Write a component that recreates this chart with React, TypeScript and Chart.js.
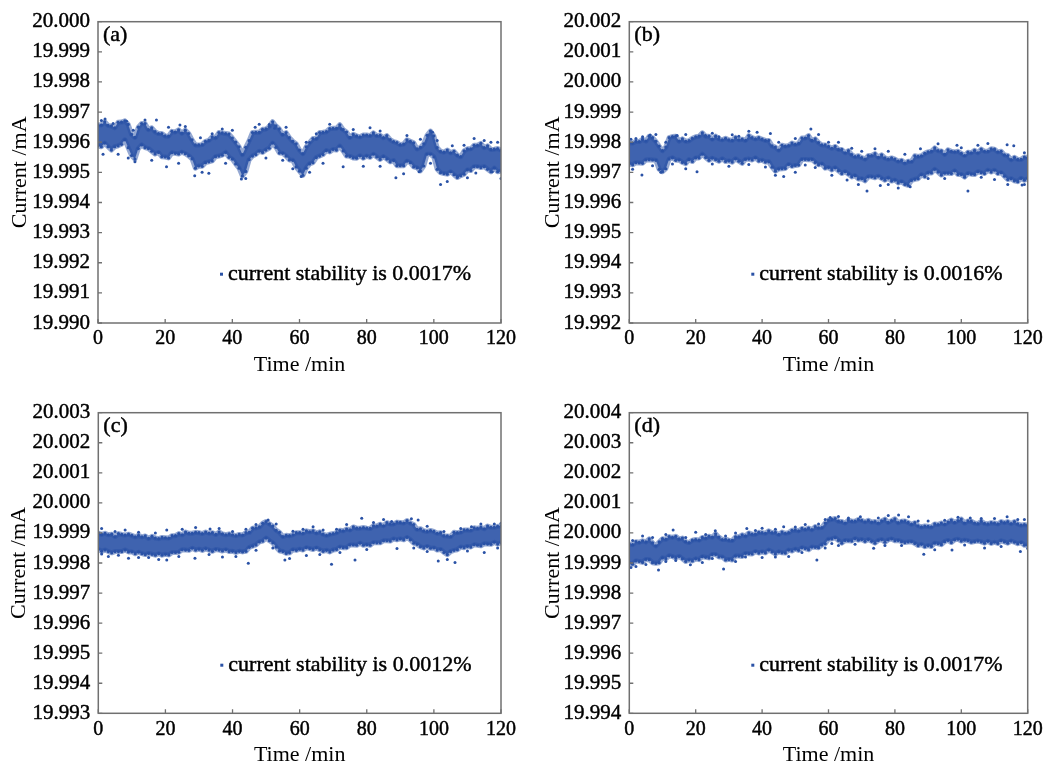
import React, { useEffect, useRef } from "react";
import { Chart, registerables } from "chart.js";

Chart.register(...registerables);

const FONT = "'Liberation Serif', 'Times New Roman', Times, serif";
const BLUE = "#2a52a6";
const BAND = "rgba(42, 82, 166, 0.9)";
const HALO = "rgba(42, 82, 166, 0.5)";
const INK = "#000000";
const FRAME = "#707070";

// time axis (minutes)
const minutes = [
  0, 1, 2, 3, 4, 5, 6, 7, 8, 9, 10, 11, 12, 13, 14, 15, 16, 17, 18, 19, 20,
  21, 22, 23, 24, 25, 26, 27, 28, 29, 30, 31, 32, 33, 34, 35, 36, 37, 38, 39, 40,
  41, 42, 43, 44, 45, 46, 47, 48, 49, 50, 51, 52, 53, 54, 55, 56, 57, 58, 59, 60,
  61, 62, 63, 64, 65, 66, 67, 68, 69, 70, 71, 72, 73, 74, 75, 76, 77, 78, 79, 80,
  81, 82, 83, 84, 85, 86, 87, 88, 89, 90, 91, 92, 93, 94, 95, 96, 97, 98, 99, 100,
  101, 102, 103, 104, 105, 106, 107, 108, 109, 110, 111, 112, 113, 114, 115, 116, 117, 118, 119, 120,
];
const xTicks = [0, 20, 40, 60, 80, 100, 120];

const yTicksA = [19.99, 19.991, 19.992, 19.993, 19.994, 19.995, 19.996, 19.997, 19.998, 19.999, 20.0];
const yTicksB = [19.992, 19.993, 19.994, 19.995, 19.996, 19.997, 19.998, 19.999, 20.0, 20.001, 20.002];
const yTicksC = [19.993, 19.994, 19.995, 19.996, 19.997, 19.998, 19.999, 20.0, 20.001, 20.002, 20.003];
const yTicksD = [19.994, 19.995, 19.996, 19.997, 19.998, 19.999, 20.0, 20.001, 20.002, 20.003, 20.004];

const panelTags = ["(a)", "(b)", "(c)", "(d)"];
const stabilityTexts = [
  "current stability is 0.0017%",
  "current stability is 0.0016%",
  "current stability is 0.0012%",
  "current stability is 0.0017%",
];

// ---------- panel (a): upper / lower edge of the dense band, per minute (mA)
const aHi = [
  19.99658, 19.99657, 19.99668, 19.99656, 19.99654, 19.99648, 19.99666, 19.99667, 19.99671, 19.99659,
  19.99626, 19.99616, 19.9965, 19.99662, 19.99662, 19.99642, 19.99648, 19.99635, 19.99629, 19.99629,
  19.99621, 19.9962, 19.99636, 19.99634, 19.99641, 19.9963, 19.9964, 19.99629, 19.99608, 19.99591,
  19.99591, 19.99592, 19.99603, 19.99606, 19.99618, 19.99615, 19.99632, 19.99631, 19.99629, 19.99627,
  19.99614, 19.996, 19.99585, 19.99559, 19.99583, 19.99605, 19.99632, 19.99633, 19.99633, 19.99643,
  19.99644, 19.99652, 19.99668, 19.99654, 19.99644, 19.99626, 19.99632, 19.99615, 19.99603, 19.99595,
  19.99574, 19.99562, 19.99585, 19.99599, 19.99612, 19.99612, 19.99632, 19.99633, 19.99635, 19.99645,
  19.99646, 19.99646, 19.99658, 19.99642, 19.99634, 19.99616, 19.99626, 19.99621, 19.99618, 19.99624,
  19.99624, 19.99622, 19.99631, 19.99622, 19.99623, 19.99615, 19.99622, 19.99609, 19.99602, 19.99599,
  19.99592, 19.99594, 19.99608, 19.99603, 19.99598, 19.99578, 19.99583, 19.99595, 19.99623, 19.99637,
  19.99621, 19.99582, 19.9957, 19.99567, 19.99574, 19.99565, 19.9957, 19.99557, 19.99552, 19.99571,
  19.99578, 19.99578, 19.9959, 19.9959, 19.99596, 19.99582, 19.99588, 19.99576, 19.99577, 19.99579,
  19.99574,
];
const aLo = [
  19.99588, 19.99585, 19.99597, 19.99585, 19.99574, 19.99585, 19.99588, 19.99593, 19.99608, 19.99582,
  19.99556, 19.99544, 19.99579, 19.99591, 19.99582, 19.99579, 19.9957, 19.99561, 19.99566, 19.99552,
  19.99551, 19.99548, 19.99565, 19.99563, 19.99561, 19.99567, 19.99562, 19.99555, 19.99545, 19.99514,
  19.99521, 19.9952, 19.99532, 19.99535, 19.99538, 19.99552, 19.99554, 19.99557, 19.99566, 19.9955,
  19.99544, 19.99528, 19.99514, 19.99488, 19.99503, 19.99542, 19.99554, 19.99559, 19.9957, 19.99566,
  19.99574, 19.9958, 19.99597, 19.99583, 19.99564, 19.99563, 19.99554, 19.99541, 19.9954, 19.99518,
  19.99504, 19.9949, 19.99514, 19.99528, 19.99532, 19.99549, 19.99554, 19.99559, 19.99572, 19.99568,
  19.99576, 19.99574, 19.99587, 19.99571, 19.99554, 19.99553, 19.99548, 19.99547, 19.99555, 19.99547,
  19.99554, 19.9955, 19.9956, 19.99551, 19.99543, 19.99552, 19.99544, 19.99535, 19.99539, 19.99522,
  19.99522, 19.99522, 19.99537, 19.99532, 19.99518, 19.99515, 19.99505, 19.99521, 19.9956, 19.9956,
  19.99551, 19.9951, 19.99499, 19.99496, 19.99494, 19.99502, 19.99492, 19.99483, 19.99489, 19.99494,
  19.99508, 19.99506, 19.99519, 19.99519, 19.99516, 19.99519, 19.9951, 19.99502, 19.99514, 19.99502,
  19.99504,
];
// scattered points above / below the band (minute, mA)
const aTopX = [2.1, 4.5, 8.5, 14, 17.4, 24.4, 30.5, 37, 46.8, 51, 52.6, 65, 72.4, 84, 99.6, 105.5, 112, 115, 119,
  1, 10.5, 21, 26, 34, 40, 48, 56, 62, 69, 76, 81, 92, 96, 101, 109, 117];
const aTopY = [19.99677, 19.99662, 19.9967, 19.99674, 19.99674, 19.99657, 19.99615, 19.99644, 19.9965, 19.99659,
  19.99646, 19.99628, 19.99644, 19.99637, 19.99633, 19.99588, 19.99612, 19.99606, 19.996,
  19.99672, 19.9964, 19.9965, 19.99652, 19.99628, 19.9964, 19.9966, 19.9965, 19.996, 19.9966, 19.99642,
  19.99648, 19.99622, 19.9961, 19.99606, 19.9959, 19.996];
const aBotX = [6, 11, 20.4, 28.8, 33, 42.7, 55, 60.5, 73, 79, 88.7, 95.6, 102, 107, 112.5, 117.4,
  1.5, 9, 16, 24, 31, 38, 44, 50, 58, 63, 67, 84, 91, 99, 104, 110, 120];
const aBotY = [19.9956, 19.99535, 19.99519, 19.99489, 19.99497, 19.99478, 19.9954, 19.99486, 19.99519, 19.9952,
  19.99482, 19.99502, 19.9946, 19.99486, 19.99498, 19.99502,
  19.9956, 19.99548, 19.9954, 19.9953, 19.995, 19.9953, 19.9948, 19.99548, 19.99512, 19.995, 19.9953,
  19.9952, 19.99495, 19.9953, 19.9947, 19.99482, 19.9948];

// ---------- panel (b)
const bHi = [
  19.99798, 19.99797, 19.99803, 19.99802, 19.9981, 19.99804, 19.9982, 19.99815, 19.99803, 19.99787,
  19.99772, 19.99784, 19.99815, 19.99819, 19.9982, 19.99804, 19.99811, 19.99803, 19.99805, 19.99813,
  19.99818, 19.9982, 19.99831, 19.9982, 19.9982, 19.9981, 19.9982, 19.99811, 19.99808, 19.99813,
  19.99808, 19.99806, 19.99816, 19.99808, 19.9981, 19.99806, 19.99822, 19.99815, 19.99811, 19.99815,
  19.9981, 19.99806, 19.99806, 19.99788, 19.99784, 19.99774, 19.9979, 19.99787, 19.99789, 19.99797,
  19.99793, 19.99796, 19.99814, 19.99814, 19.99822, 19.99806, 19.99811, 19.99799, 19.99791, 19.99791,
  19.99786, 19.9978, 19.99786, 19.99776, 19.99776, 19.99765, 19.99772, 19.99759, 19.99752, 19.99755,
  19.99749, 19.99744, 19.99756, 19.99756, 19.99762, 19.9975, 19.99758, 19.99748, 19.99744, 19.99748,
  19.99744, 19.99737, 19.9974, 19.99731, 19.99737, 19.99736, 19.99755, 19.99753, 19.99755, 19.99763,
  19.99768, 19.9977, 19.99781, 19.99772, 19.99771, 19.9976, 19.99775, 19.9977, 19.99768, 19.9977,
  19.99763, 19.99756, 19.99767, 19.99765, 19.99773, 19.99765, 19.99777, 19.9977, 19.9977, 19.99778,
  19.99777, 19.99768, 19.9977, 19.99758, 19.99756, 19.99742, 19.9975, 19.99743, 19.99743, 19.99751,
  19.99749,
];
const bLo = [
  19.99728, 19.99725, 19.99732, 19.99731, 19.9973, 19.99741, 19.99742, 19.99741, 19.9974, 19.9971,
  19.99702, 19.99712, 19.99744, 19.99748, 19.9974, 19.99741, 19.99733, 19.99729, 19.99742, 19.99736,
  19.99748, 19.99748, 19.9976, 19.99749, 19.9974, 19.99747, 19.99742, 19.99737, 19.99745, 19.99736,
  19.99738, 19.99734, 19.99745, 19.99737, 19.9973, 19.99743, 19.99744, 19.99741, 19.99748, 19.99738,
  19.9974, 19.99734, 19.99735, 19.99717, 19.99704, 19.99711, 19.99712, 19.99713, 19.99726, 19.9972,
  19.99723, 19.99724, 19.99743, 19.99743, 19.99742, 19.99743, 19.99733, 19.99725, 19.99728, 19.99714,
  19.99716, 19.99708, 19.99715, 19.99705, 19.99696, 19.99702, 19.99694, 19.99685, 19.99689, 19.99678,
  19.99679, 19.99672, 19.99685, 19.99685, 19.99682, 19.99687, 19.9968, 19.99674, 19.99681, 19.99671,
  19.99674, 19.99665, 19.99669, 19.9966, 19.99657, 19.99673, 19.99677, 19.99679, 19.99692, 19.99686,
  19.99698, 19.99698, 19.9971, 19.99701, 19.99691, 19.99697, 19.99697, 19.99696, 19.99705, 19.99693,
  19.99693, 19.99684, 19.99696, 19.99694, 19.99693, 19.99702, 19.99699, 19.99696, 19.99707, 19.99701,
  19.99707, 19.99696, 19.99699, 19.99687, 19.99676, 19.99679, 19.99672, 19.99669, 19.9968, 19.99674,
  19.99679,
];
const bTopX = [2, 6.3, 14.4, 22.9, 27, 33, 38.5, 42.5, 54.7, 60, 67, 74, 87.7, 98.7, 105, 113.8, 115.8,
  0.5, 4, 8, 11, 17, 25, 31, 36, 45, 50, 57, 63, 70, 78, 83, 93, 100, 108, 119];
const bTopY = [19.99812, 19.99824, 19.99822, 19.99822, 19.99818, 19.9982, 19.99833, 19.99829, 19.99844, 19.998,
  19.9978, 19.99778, 19.99778, 19.9979, 19.9979, 19.99792, 19.99788,
  19.9981, 19.99818, 19.99826, 19.998, 19.99826, 19.9983, 19.99825, 19.99836, 19.998, 19.99812, 19.99826,
  19.998, 19.9977, 19.9977, 19.9976, 19.99795, 19.99782, 19.99796, 19.99765];
const bBotX = [3.8, 9.5, 20.4, 30, 46.5, 56, 65.6, 71.6, 75.6, 84.6, 90, 102, 110, 118.3,
  1, 7, 13, 17, 25, 36, 41, 44, 50, 53, 61, 69, 78, 81, 95, 106, 114, 119];
const bBotY = [19.99691, 19.997, 19.99702, 19.9972, 19.99686, 19.99716, 19.99675, 19.99638, 19.99656, 19.99652,
  19.9968, 19.99638, 19.99676, 19.99658,
  19.9971, 19.99722, 19.99728, 19.99712, 19.99728, 19.99726, 19.99718, 19.9969, 19.997, 19.99724, 19.9969,
  19.9966, 19.9966, 19.99648, 19.9968, 19.99684, 19.9966, 19.9966];

// ---------- panel (c)
const cHi = [
  19.999, 19.99895, 19.99899, 19.99894, 19.99896, 19.99888, 19.99898, 19.99895, 19.99893, 19.99896,
  19.99892, 19.99887, 19.99892, 19.99887, 19.9989, 19.99882, 19.99889, 19.99883, 19.99881, 19.99885,
  19.99884, 19.99883, 19.99891, 19.99891, 19.99898, 19.99894, 19.99903, 19.99899, 19.99899, 19.99902,
  19.99901, 19.99898, 19.99903, 19.99899, 19.99901, 19.99895, 19.99903, 19.99897, 19.99894, 19.99897,
  19.99894, 19.99891, 19.99895, 19.99893, 19.99901, 19.99902, 19.99916, 19.99917, 19.9992, 19.99932,
  19.99938, 19.9993, 19.99923, 19.99909, 19.99902, 19.99888, 19.99892, 19.99891, 19.99894, 19.99901,
  19.99901, 19.99899, 19.99907, 19.99904, 19.99907, 19.999, 19.99904, 19.99896, 19.99892, 19.99896,
  19.99898, 19.99901, 19.99909, 19.99907, 19.99913, 19.9991, 19.9992, 19.99916, 19.99916, 19.99918,
  19.99916, 19.99915, 19.99924, 19.99923, 19.99929, 19.99924, 19.99934, 19.9993, 19.9993, 19.99936,
  19.99935, 19.99933, 19.99941, 19.99933, 19.99928, 19.99912, 19.99914, 19.99907, 19.99905, 19.99908,
  19.99905, 19.99899, 19.99901, 19.99891, 19.9989, 19.99888, 19.99902, 19.99901, 19.99903, 19.9991,
  19.9991, 19.99909, 19.99917, 19.99915, 19.99919, 19.99914, 19.99923, 19.99919, 19.99919, 19.99922,
  19.99922,
];
const cLo = [
  19.99845, 19.99839, 19.99843, 19.99838, 19.99834, 19.99838, 19.99838, 19.99838, 19.99843, 19.99837,
  19.99837, 19.99831, 19.99836, 19.99831, 19.99828, 19.99832, 19.99829, 19.99826, 19.99831, 19.99826,
  19.99829, 19.99827, 19.99835, 19.99835, 19.99836, 19.99844, 19.99843, 19.99842, 19.99849, 19.99843,
  19.99846, 19.99842, 19.99847, 19.99843, 19.99839, 19.99845, 19.99843, 19.9984, 19.99844, 19.99838,
  19.99839, 19.99835, 19.99839, 19.99837, 19.99839, 19.99852, 19.99856, 19.9986, 19.9987, 19.99873,
  19.99883, 19.99874, 19.99867, 19.99853, 19.9984, 19.99838, 19.99832, 19.99834, 19.99844, 19.99842,
  19.99846, 19.99843, 19.99851, 19.99848, 19.99845, 19.9985, 19.99844, 19.99839, 19.99842, 19.99837,
  19.99843, 19.99845, 19.99853, 19.99851, 19.99851, 19.9986, 19.9986, 19.99859, 19.99866, 19.99859,
  19.99861, 19.99859, 19.99868, 19.99867, 19.99867, 19.99874, 19.99874, 19.99873, 19.9988, 19.99877,
  19.9988, 19.99877, 19.99885, 19.99877, 19.99866, 19.99862, 19.99854, 19.9985, 19.99855, 19.99849,
  19.9985, 19.99843, 19.99845, 19.99835, 19.99828, 19.99838, 19.99842, 19.99844, 19.99853, 19.99851,
  19.99855, 19.99853, 19.99861, 19.99859, 19.99857, 19.99864, 19.99863, 19.99862, 19.99869, 19.99863,
  19.99867,
];
const cTopX = [5, 12, 20.4, 33.3, 40, 50.6, 58, 64, 71, 78.5, 87.4, 93.3, 95.3, 103, 111.2, 118,
  1, 8, 17, 25, 29, 36, 44, 47, 53, 61, 67, 74, 82, 85, 98, 108, 114, 120];
const cTopY = [19.99905, 19.99902, 19.9991, 19.99913, 19.99905, 19.99943, 19.99906, 19.99921, 19.99912, 19.99949,
  19.99938, 19.99947, 19.99943, 19.99905, 19.99921, 19.9993,
  19.99915, 19.9991, 19.999, 19.99912, 19.99918, 19.99915, 19.99912, 19.99928, 19.9993, 19.99912, 19.9991,
  19.99928, 19.99935, 19.99945, 19.99922, 19.99915, 19.9993, 19.99932];
const cBotX = [3, 9, 15, 20.4, 28.8, 37, 44.7, 55.6, 62, 69.5, 76.5, 89, 101.3, 106.3, 115,
  1, 6, 12, 18, 24, 33, 41, 47, 52, 57, 66, 72, 80, 94, 98, 104, 110, 119];
const cBotY = [19.99822, 19.99816, 19.99818, 19.9981, 19.99816, 19.9982, 19.99799, 19.9981, 19.99825, 19.99796,
  19.9981, 19.99848, 19.99807, 19.99802, 19.99835,
  19.9983, 19.99826, 19.99818, 19.99812, 19.99822, 19.99828, 19.99822, 19.99842, 19.9985, 19.99815, 19.99828,
  19.99835, 19.99845, 19.9985, 19.99838, 19.99812, 19.9984, 19.9985];

// ---------- panel (d)
const dHi = [
  19.99963, 19.99961, 19.99971, 19.99969, 19.99974, 19.9997, 19.9998, 19.99967, 19.99957, 19.9997,
  19.99981, 19.99979, 19.99988, 19.99985, 19.99989, 19.9998, 19.99983, 19.99971, 19.99968, 19.99976,
  19.99978, 19.99976, 19.99985, 19.99983, 19.99989, 19.99986, 19.99997, 19.99986, 19.99978, 19.99979,
  19.99976, 19.99975, 19.99987, 19.99987, 19.99994, 19.9999, 20.0, 19.99996, 19.99996, 20.00002,
  20.00001, 19.99999, 20.00007, 20.00001, 20.00002, 19.99995, 20.00003, 19.99999, 20.00001, 20.00009,
  20.0001, 20.00007, 20.00015, 20.00012, 20.00016, 20.00011, 20.00021, 20.00017, 20.00018, 20.00033,
  20.00043, 20.00045, 20.00048, 20.00039, 20.00038, 20.00033, 20.00043, 20.00039, 20.00039, 20.00045,
  20.00042, 20.00037, 20.00042, 20.00036, 20.00038, 20.00033, 20.0004, 20.00046, 20.00035, 20.00041,
  20.00047, 20.00034, 20.00039, 20.0004, 20.00035, 20.00029, 20.00034, 20.00024, 20.0002, 20.00023,
  20.00022, 20.0002, 20.0003, 20.00028, 20.00033, 20.00029, 20.00036, 20.00043, 20.00035, 20.00041,
  20.00046, 20.00033, 20.0004, 20.00039, 20.00033, 20.00031, 20.00039, 20.00032, 20.0003, 20.00034,
  20.00033, 20.0003, 20.00038, 20.00034, 20.00038, 20.00031, 20.00038, 20.0003, 20.00026, 20.00028,
  20.00026,
];
const dLo = [
  19.99899, 19.99896, 19.99907, 19.99905, 19.99902, 19.99912, 19.99911, 19.99901, 19.99899, 19.99901,
  19.99917, 19.99914, 19.99924, 19.99921, 19.99917, 19.99922, 19.99914, 19.99905, 19.9991, 19.99907,
  19.99914, 19.99911, 19.99921, 19.99919, 19.99917, 19.99928, 19.99928, 19.9992, 19.9992, 19.9991,
  19.99912, 19.9991, 19.99923, 19.99923, 19.99922, 19.99932, 19.99931, 19.9993, 19.99938, 19.99933,
  19.99937, 19.99934, 19.99943, 19.99937, 19.9993, 19.99937, 19.99934, 19.99933, 19.99943, 19.9994,
  19.99946, 19.99942, 19.99951, 19.99948, 19.99944, 19.99953, 19.99952, 19.99951, 19.9996, 19.99964,
  19.99979, 19.9998, 19.99984, 19.99975, 19.99966, 19.99975, 19.99974, 19.99973, 19.99981, 19.99976,
  19.99978, 19.99972, 19.99978, 19.99972, 19.99966, 19.99975, 19.99978, 19.99969, 19.99977, 19.9998,
  19.99974, 19.99975, 19.99971, 19.99968, 19.9997, 19.99971, 19.99965, 19.99958, 19.99962, 19.99954,
  19.99958, 19.99955, 19.99966, 19.99964, 19.99961, 19.99971, 19.99975, 19.99968, 19.99977, 19.99979,
  19.99973, 19.99976, 19.99974, 19.99969, 19.99971, 19.99973, 19.9997, 19.99966, 19.99972, 19.99965,
  19.99969, 19.99965, 19.99974, 19.9997, 19.99966, 19.99973, 19.99969, 19.99964, 19.99968, 19.99959,
  19.99959,
];
const dTopX = [4, 13.2, 20, 25.9, 35.4, 40, 46.5, 53, 60.5, 69.6, 81.1, 84.1, 90, 102.7, 113.8, 119,
  1, 7, 11, 17, 23, 29, 32, 38, 44, 50, 57, 59, 63, 66, 75, 78, 87, 95, 99, 106, 110, 117];
const dTopY = [19.9999, 20.0001, 20.00002, 20.00007, 20.00015, 20.00016, 20.00021, 20.00028, 20.00051, 20.00054,
  20.0006, 20.00054, 20.0004, 20.0005, 20.00054, 20.00045,
  19.99975, 19.99985, 19.99995, 19.99985, 19.99995, 19.9999, 20.0, 20.00008, 20.00012, 20.0002, 20.0003,
  20.00045, 20.00055, 20.0005, 20.0005, 20.00058, 20.0004, 20.00042, 20.00052, 20.00048, 20.00048, 20.00045];
const dBotX = [2, 8.8, 18.4, 28.4, 40, 48, 56.5, 63, 73.6, 88.7, 97.2, 107, 117.8,
  0.5, 5, 11, 14, 22, 25, 32, 35, 44, 52, 59, 61, 68, 77, 82, 92, 101, 112, 120];
const dBotY = [19.99888, 19.99877, 19.99894, 19.9988, 19.99918, 19.99922, 19.9991, 19.99958, 19.99949, 19.99929,
  19.99943, 19.9995, 19.99938,
  19.99885, 19.99895, 19.99905, 19.99908, 19.99902, 19.99915, 19.99905, 19.9992, 19.9992, 19.99935, 19.9995,
  19.99965, 19.99962, 19.99958, 19.99958, 19.99944, 19.9996, 19.99955, 19.99948];

type Spec = {
  left: number; top: number; width: number; height: number;
  plotL: number; plotT: number; plotR: number; plotB: number;
  yTitlePad: number;
  hi: number[]; lo: number[];
  topX: number[]; topY: number[]; botX: number[]; botY: number[];
  yTicks: number[]; tag: string; legend: string;
};

const specs: Spec[] = [
  { left: 0, top: 0, width: 520, height: 380, plotL: 98, plotT: 21.7, plotR: 502, plotB: 323, yTitlePad: 6.8,
    hi: aHi, lo: aLo, topX: aTopX, topY: aTopY, botX: aBotX, botY: aBotY,
    yTicks: yTicksA, tag: panelTags[0], legend: stabilityTexts[0] },
  { left: 520, top: 0, width: 529, height: 380, plotL: 109.3, plotT: 21.7, plotR: 507.7, plotB: 323, yTitlePad: 20.3,
    hi: bHi, lo: bLo, topX: bTopX, topY: bTopY, botX: bBotX, botY: bBotY,
    yTicks: yTicksB, tag: panelTags[1], legend: stabilityTexts[1] },
  { left: 0, top: 390, width: 520, height: 380, plotL: 98.3, plotT: 22.7, plotR: 501, plotB: 323.3, yTitlePad: 5.8,
    hi: cHi, lo: cLo, topX: cTopX, topY: cTopY, botX: cBotX, botY: cBotY,
    yTicks: yTicksC, tag: panelTags[2], legend: stabilityTexts[2] },
  { left: 520, top: 390, width: 529, height: 380, plotL: 109.3, plotT: 22.7, plotR: 507.7, plotB: 323.3, yTitlePad: 20,
    hi: dHi, lo: dLo, topX: dTopX, topY: dTopY, botX: dBotX, botY: dBotY,
    yTicks: yTicksD, tag: panelTags[3], legend: stabilityTexts[3] },
];

const TEXT_STROKE = 0.45;

const decorPlugin = {
  id: "panelDecor",
  afterDraw(chart: any, _args: any, opts: any) {
    const { ctx, chartArea: ca, scales } = chart;
    ctx.save();
    ctx.strokeStyle = FRAME;
    ctx.lineWidth = 1.3;
    ctx.beginPath();
    scales.y.ticks.forEach((t: any) => {
      const y = scales.y.getPixelForValue(t.value);
      ctx.moveTo(ca.left, y);
      ctx.lineTo(ca.left + 4, y);
    });
    scales.x.ticks.forEach((t: any) => {
      const x = scales.x.getPixelForValue(t.value);
      ctx.moveTo(x, ca.bottom);
      ctx.lineTo(x, ca.bottom - 4);
    });
    ctx.stroke();
    ctx.lineWidth = 1.5;
    ctx.strokeRect(ca.left, ca.top, ca.right - ca.left, ca.bottom - ca.top);

    ctx.fillStyle = INK;
    ctx.strokeStyle = INK;
    ctx.lineWidth = TEXT_STROKE;
    ctx.textAlign = "left";
    ctx.textBaseline = "middle";
    ctx.font = `22px ${FONT}`;
    ctx.fillText(opts.tag, ca.left + 5, ca.top + 14);
    ctx.strokeText(opts.tag, ca.left + 5, ca.top + 14);

    ctx.fillStyle = BLUE;
    ctx.fillRect(ca.left + 122, ca.top + 251, 3, 3);
    ctx.fillStyle = INK;
    ctx.fillText(opts.legend, ca.left + 130, ca.top + 252.5);
    ctx.strokeText(opts.legend, ca.left + 130, ca.top + 252.5);
    ctx.restore();
  },
};

function Panel({ spec }: { spec: Spec }) {
  const ref = useRef<HTMLCanvasElement | null>(null);
  useEffect(() => {
    const canvas = ref.current;
    if (!canvas) return;
    const edge = {
      borderColor: HALO,
      borderWidth: 5,
      borderJoinStyle: "round",
      borderCapStyle: "round",
      pointRadius: 1.6,
      pointHoverRadius: 1.6,
      pointBackgroundColor: BLUE,
      pointBorderWidth: 0,
      tension: 0,
    };
    const dots = {
      showLine: false,
      fill: false,
      pointRadius: 1.5,
      pointHoverRadius: 1.5,
      pointBackgroundColor: BLUE,
      pointBorderWidth: 0,
      borderColor: "rgba(0,0,0,0)",
    };
    const chart = new Chart(canvas, {
      type: "line",
      data: {
        datasets: [
          { ...edge, data: minutes.map((m, i) => ({ x: m, y: spec.hi[i] })), fill: false },
          { ...edge, data: minutes.map((m, i) => ({ x: m, y: spec.lo[i] })), fill: "-1", backgroundColor: BAND },
          { ...dots, data: spec.topX.map((x, i) => ({ x, y: spec.topY[i] })) },
          { ...dots, data: spec.botX.map((x, i) => ({ x, y: spec.botY[i] })) },
        ],
      },
      options: {
        responsive: false,
        animation: false,
        devicePixelRatio: 1,
        events: [],
        layout: { padding: { left: 0, top: spec.plotT, right: spec.width - spec.plotR, bottom: 0 } },
        plugins: {
          legend: { display: false },
          tooltip: { enabled: false },
          panelDecor: { tag: spec.tag, legend: spec.legend },
        } as any,
        scales: {
          x: {
            type: "linear",
            min: 0,
            max: 120,
            afterBuildTicks: (s: any) => { s.ticks = xTicks.map((v) => ({ value: v })); },
            afterFit: (s: any) => { s.height = spec.height - spec.plotB; },
            grid: { display: false, drawTicks: false },
            border: { display: false },
            ticks: {
              font: { family: FONT, size: 20 },
              color: INK,
              textStrokeColor: INK,
              textStrokeWidth: TEXT_STROKE,
              padding: 4,
              maxRotation: 0,
              autoSkip: false,
              callback: (v: any) => String(v),
            },
            title: {
              display: true,
              text: "Time /min",
              font: { family: FONT, size: 22 },
              color: INK,
              padding: { top: 0, bottom: 1.5 },
            },
          },
          y: {
            type: "linear",
            min: spec.yTicks[0],
            max: spec.yTicks[spec.yTicks.length - 1],
            afterBuildTicks: (s: any) => { s.ticks = spec.yTicks.map((v) => ({ value: v })); },
            afterFit: (s: any) => { s.width = spec.plotL; },
            grid: { display: false, drawTicks: false },
            border: { display: false },
            ticks: {
              font: { family: FONT, size: 21 },
              color: INK,
              textStrokeColor: INK,
              textStrokeWidth: TEXT_STROKE,
              padding: 8,
              autoSkip: false,
              callback: (v: any) => Number(v).toFixed(3),
            },
            title: {
              display: true,
              text: "Current /mA",
              font: { family: FONT, size: 22 },
              color: INK,
              padding: { top: spec.yTitlePad, bottom: 0 },
            },
          },
        },
      } as any,
      plugins: [decorPlugin],
    });
    return () => chart.destroy();
  }, [spec]);

  return (
    <div style={{ position: "absolute", left: spec.left, top: spec.top, width: spec.width, height: spec.height }}>
      <canvas
        ref={ref}
        width={spec.width}
        height={spec.height}
        style={{ width: spec.width, height: spec.height, display: "block" }}
      />
    </div>
  );
}

export default function App() {
  return (
    <div
      style={{
        position: "absolute",
        left: 0,
        top: 0,
        width: 1049,
        height: 763,
        overflow: "hidden",
        background: "#ffffff",
      }}
    >
      {specs.map((s, i) => (
        <Panel key={i} spec={s} />
      ))}
    </div>
  );
}
